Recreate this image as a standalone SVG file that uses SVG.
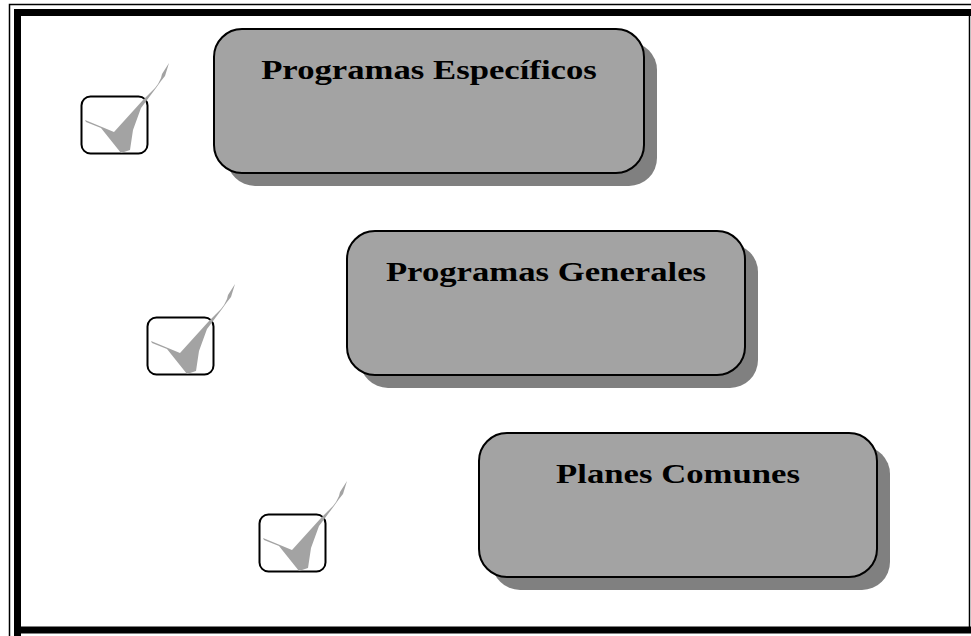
<svg xmlns="http://www.w3.org/2000/svg" width="971" height="636" viewBox="0 0 971 636">
<defs>
<style>
.shadow{fill:#808080;}
.box{fill:#a3a3a3;stroke:#000;stroke-width:2;}
.lbl{font-family:"Liberation Serif","Times New Roman",serif;font-weight:bold;font-size:28px;fill:#000;text-anchor:middle;}
.cb{fill:#fff;stroke:#000;stroke-width:2;}
.tick{fill:#a3a3a3;}
</style>
<g id="check">
<rect class="cb" x="81.5" y="96.5" width="66" height="57" rx="9"/>
<polygon class="tick" points="85,120 114,132 143,100 150,93 155,88 158,84 161,78 162,74 169,63 165,76 161,81 156,88 150,96 141,108 133,130 130,150 121,153 101,128 86,122"/>
</g>
</defs>
<rect x="0" y="0" width="971" height="636" fill="#fff"/>
<g id="frame">
<path d="M9.5,636 V4.5 H975" fill="none" stroke="#000" stroke-width="1.5"/>
<path d="M17.5,640 V12.5 H975" fill="none" stroke="#000" stroke-width="7"/>
<path d="M14,630 H975" fill="none" stroke="#000" stroke-width="7"/>
<path d="M969.5,16 V627" fill="none" stroke="#000" stroke-width="1.5"/>
</g>
<g id="node-especificos">
<rect class="shadow" x="227" y="42" width="430" height="144" rx="28"/>
<rect class="box" x="214" y="29" width="430" height="144" rx="28"/>
<text class="lbl" transform="translate(429,79) scale(1.24,1)">Programas Específicos</text>
</g>
<g id="node-generales">
<rect class="shadow" x="360" y="244" width="398" height="144" rx="28"/>
<rect class="box" x="347" y="231" width="398" height="144" rx="28"/>
<text class="lbl" transform="translate(546,281) scale(1.24,1)">Programas Generales</text>
</g>
<g id="node-comunes">
<rect class="shadow" x="492" y="446" width="398" height="144" rx="28"/>
<rect class="box" x="479" y="433" width="398" height="144" rx="28"/>
<text class="lbl" transform="translate(678,483) scale(1.24,1)">Planes Comunes</text>
</g>
<g id="check-1"><use href="#check"/></g>
<g id="check-2"><use href="#check" transform="translate(66,221)"/></g>
<g id="check-3"><use href="#check" transform="translate(178,418)"/></g>
<g id="connectors"></g>
</svg>
